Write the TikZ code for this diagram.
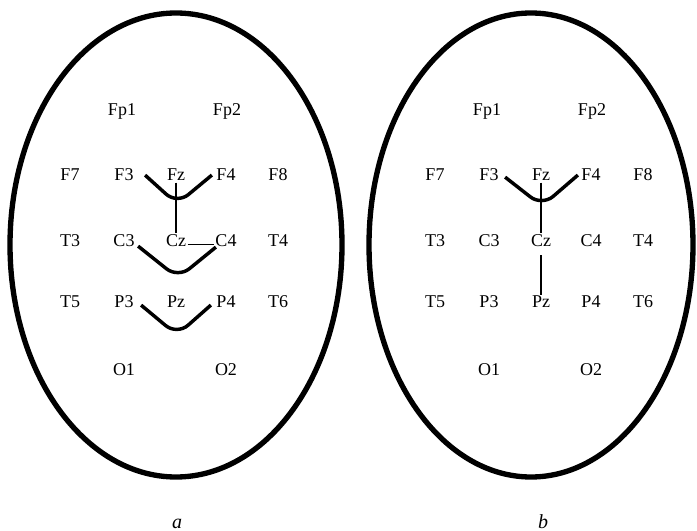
\documentclass[tikz,border=0pt]{standalone}
\usepackage{fontspec}
\setmainfont{Liberation Serif}
\usetikzlibrary{calc}

\begin{document}
\begin{tikzpicture}[x=0.75pt,y=-0.75pt]
   \useasboundingbox (0,0) rectangle (697,531);
   \tikzstyle{electrode}=[anchor=base, inner sep=1pt, font=\fontsize{13.5}{16}\selectfont]
   \tikzstyle{head}=[line width=4pt]
   \tikzstyle{vtrace}=[line width=2.6pt, rounded corners=11pt]
   \tikzstyle{wire}=[line width=0.8pt]
   \tikzstyle{caption}=[anchor=base, inner sep=0pt, font=\fontsize{15}{18}\selectfont\itshape]
   % the two heads
   \draw[head] (176,245) ellipse (124.5pt and 174pt);
   \draw[head] (531,245) ellipse (121.5pt and 174pt);
   \foreach \p/\dx in {a/0,b/365} {
       \foreach \n/\x/\y in {Fp1/122/116,Fp2/227/116,
                             F7/70/181,F3/124/181,Fz/176/181,F4/226/181,F8/278/181,
                             T3/70/247,C3/124/247,Cz/176/247,C4/226/247,T4/278/247,
                             T5/70/308,P3/124/308,Pz/176/308,P4/226/308,T6/278/308,
                             O1/124/375,O2/226/375} {
           \node[electrode] (\p\n) at (\x+\dx,\y) {\n};
       }
   }
   \node[caption] (capa) at (177,528) {a};
   \node[caption] (capb) at (543,528) {b};
   % panel a
   \coordinate (aV1) at (177,204);
   \coordinate (aV2) at (178,278);
   \coordinate (aV3) at (177,335);
   \draw[vtrace] ($(aF3.east)+(10,0)$) -- (aV1) -- ($(aF4.west)+(-3,0)$);
   \draw[vtrace] ($(aC3.east)+(2,5)$) -- (aV2) -- ($(aC4.west)+(2,6)$);
   \draw[vtrace] ($(aP3.east)+(6,3)$) -- (aV3) -- ($(aP4.west)+(-4,3)$);
   \path[wire] (aFz) edge (aCz);
   \draw[wire] ($(aCz.east)+(0,3)$) -- ($(aC4.west)+(0,3)$);
   % panel b
   \coordinate (bV1) at (542,206);
   \draw[vtrace] ($(bF3.east)+(5,2)$) -- (bV1) -- ($(bF4.west)+(-2,0)$);
   \path[wire] (bFz) edge (bCz);
   \path[wire] (bCz) edge[shorten <=5pt] (bPz);
\end{tikzpicture}
\end{document}
